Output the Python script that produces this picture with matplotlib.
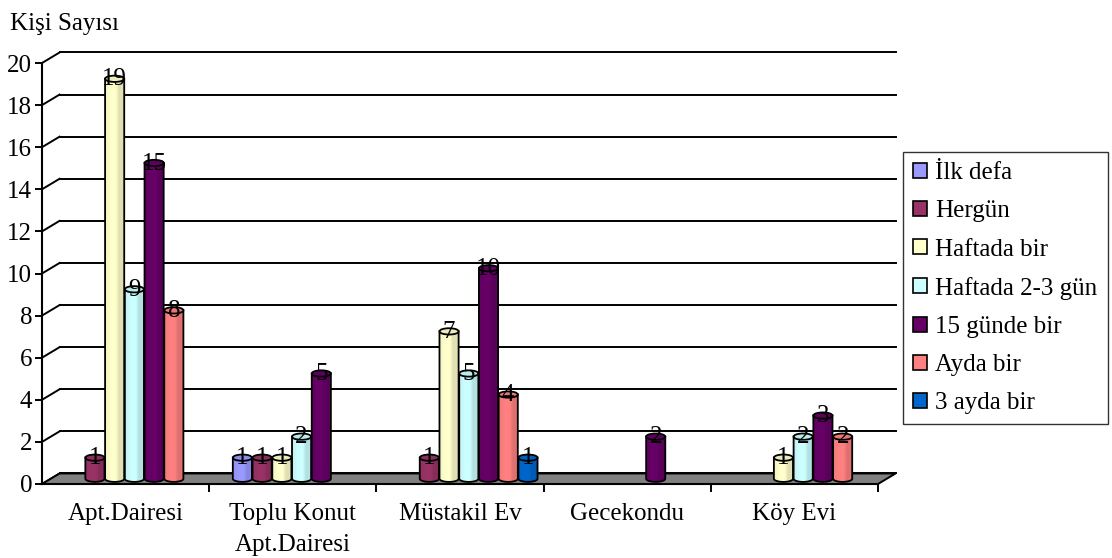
import numpy as np
import matplotlib.pyplot as plt
from matplotlib.patches import Polygon, Ellipse, PathPatch, Patch
from matplotlib.path import Path
from matplotlib.colors import to_rgb

plt.rcParams['font.family'] = ['Liberation Serif', 'DejaVu Serif']

categories = ['Apt.Dairesi', 'Toplu Konut\nApt.Dairesi', 'Müstakil Ev', 'Gecekondu', 'Köy Evi']
series = ['İlk defa', 'Hergün', 'Haftada bir', 'Haftada 2-3 gün',
          '15 günde bir', 'Ayda bir', '3 ayda bir']
colors = ['#9999FF', '#993366', '#FFFFCC', '#CCFFFF', '#660066', '#FF8080', '#0066CC']

# one list per series, one value per category (None = no answer)
ilk_defa = [None, 1, None, None, None]
hergun = [1, 1, 1, None, None]
haftada_bir = [19, 1, 7, None, 1]
haftada_2_3 = [9, 2, 5, None, 2]
onbes_gunde = [15, 5, 10, 2, 3]
ayda_bir = [8, None, 4, None, 2]
uc_ayda = [None, None, 1, None, None]
values = [ilk_defa, hergun, haftada_bir, haftada_2_3, onbes_gunde, ayda_bir, uc_ayda]

yticks = list(range(0, 21, 2))

# 3d look: depth of the floor in data units, slot width of one cylinder
dx, dy = 0.105, 0.5
slot = 0.118
ry = 0.15
fs = 18

fig = plt.figure(figsize=(11.12, 5.58), dpi=100)
ax = fig.add_axes([42 / 1112, 74 / 558, 836 / 1112, 421 / 558])
ax.set_xlim(0, 5)
ax.set_ylim(0, 20)

# back wall grid lines and the short diagonals from the axis
for v in yticks:
    ax.plot([dx, 5 + dx], [v + dy, v + dy], color='black', lw=1.4, clip_on=False, zorder=1)
    ax.plot([0, dx], [v, v + dy], color='black', lw=1.4, clip_on=False, zorder=1)

# floor
ax.add_patch(Polygon([(0, 0), (5, 0), (5 + dx, dy), (dx, dy)], closed=True,
                     facecolor='#808080', edgecolor='black', lw=1.4,
                     clip_on=False, zorder=2))


def shade(rgb, n=40):
    t = np.linspace(0, 1, n)
    f = np.where(t < 0.3, 0.95 + 0.05 * t / 0.3, 1 - 0.12 * np.clip((t - 0.55) / 0.15, 0, 1))
    img = np.clip(np.outer(f, rgb), 0, 1)
    return img[None, :, :]


def cylinder(xc, v, color):
    rgb = np.array(to_rgb(color))
    w = slot * 0.97
    x0, x1 = xc - w / 2, xc + w / 2
    y0, y1 = dy / 2, dy / 2 + v
    th = np.linspace(np.pi, 2 * np.pi, 30)
    arc = np.column_stack([xc + w / 2 * np.cos(th), y0 + ry * np.sin(th)])
    verts = np.vstack([[(x0, y1)], arc, [(x1, y1)], [(x0, y1)]])
    body = PathPatch(Path(verts, closed=True), facecolor='none', edgecolor='black',
                     lw=1.3, zorder=4, clip_on=False)
    im = ax.imshow(shade(rgb), extent=(x0, x1, y0 - ry, y1), aspect='auto',
                   interpolation='bilinear', zorder=3)
    ax.add_patch(body)
    im.set_clip_path(body)
    ax.add_patch(Ellipse((xc, y1), w, 2 * ry, facecolor=rgb * 0.92, edgecolor='black',
                         lw=1.3, zorder=5, clip_on=False))
    ax.text(xc, y1 - 0.03, f'{v}', ha='center', va='center', fontsize=fs,
            zorder=6, clip_on=False)


for s, vals in enumerate(values):
    for i, v in enumerate(vals):
        if v is None:
            continue
        xc = i + 0.5 + (s - 3) * slot + dx / 2
        cylinder(xc, v, colors[s])

ax.set_xlim(0, 5)
ax.set_ylim(0, 20)

for side in ['top', 'right']:
    ax.spines[side].set_visible(False)
ax.spines['left'].set_linewidth(1.5)
ax.spines['bottom'].set_linewidth(1.5)
ax.spines['left'].set_zorder(7)
ax.spines['bottom'].set_zorder(7)

ax.set_yticks(yticks)
ax.tick_params(axis='y', direction='out', length=5, width=1.4, labelsize=fs, pad=2)
ax.set_xticks(range(1, 6))
ax.set_xticklabels([])
ax.set_xticks(np.arange(5) + 0.5, minor=True)
ax.set_xticklabels(categories, minor=True, fontsize=fs, linespacing=1.5)
ax.tick_params(axis='x', which='minor', length=0, pad=14)
ax.tick_params(axis='x', which='major', direction='out', length=6, width=1.4)
ax.set_facecolor('none')

fig.text(10 / 1112, 1 - 30 / 558, 'Kişi Sayısı', fontsize=fs, va='baseline')

handles = [Patch(facecolor=c, edgecolor='black', lw=1.2) for c in colors]
fig.legend(handles, series, loc='upper left', bbox_to_anchor=(903 / 1112, 1 - 152 / 558),
           fontsize=fs, frameon=True, fancybox=False, edgecolor='black',
           handlelength=0.55, handleheight=0.55, handletextpad=0.35,
           labelspacing=0.65, borderpad=0.4, borderaxespad=0)

fig.savefig('out.png', dpi=100)
